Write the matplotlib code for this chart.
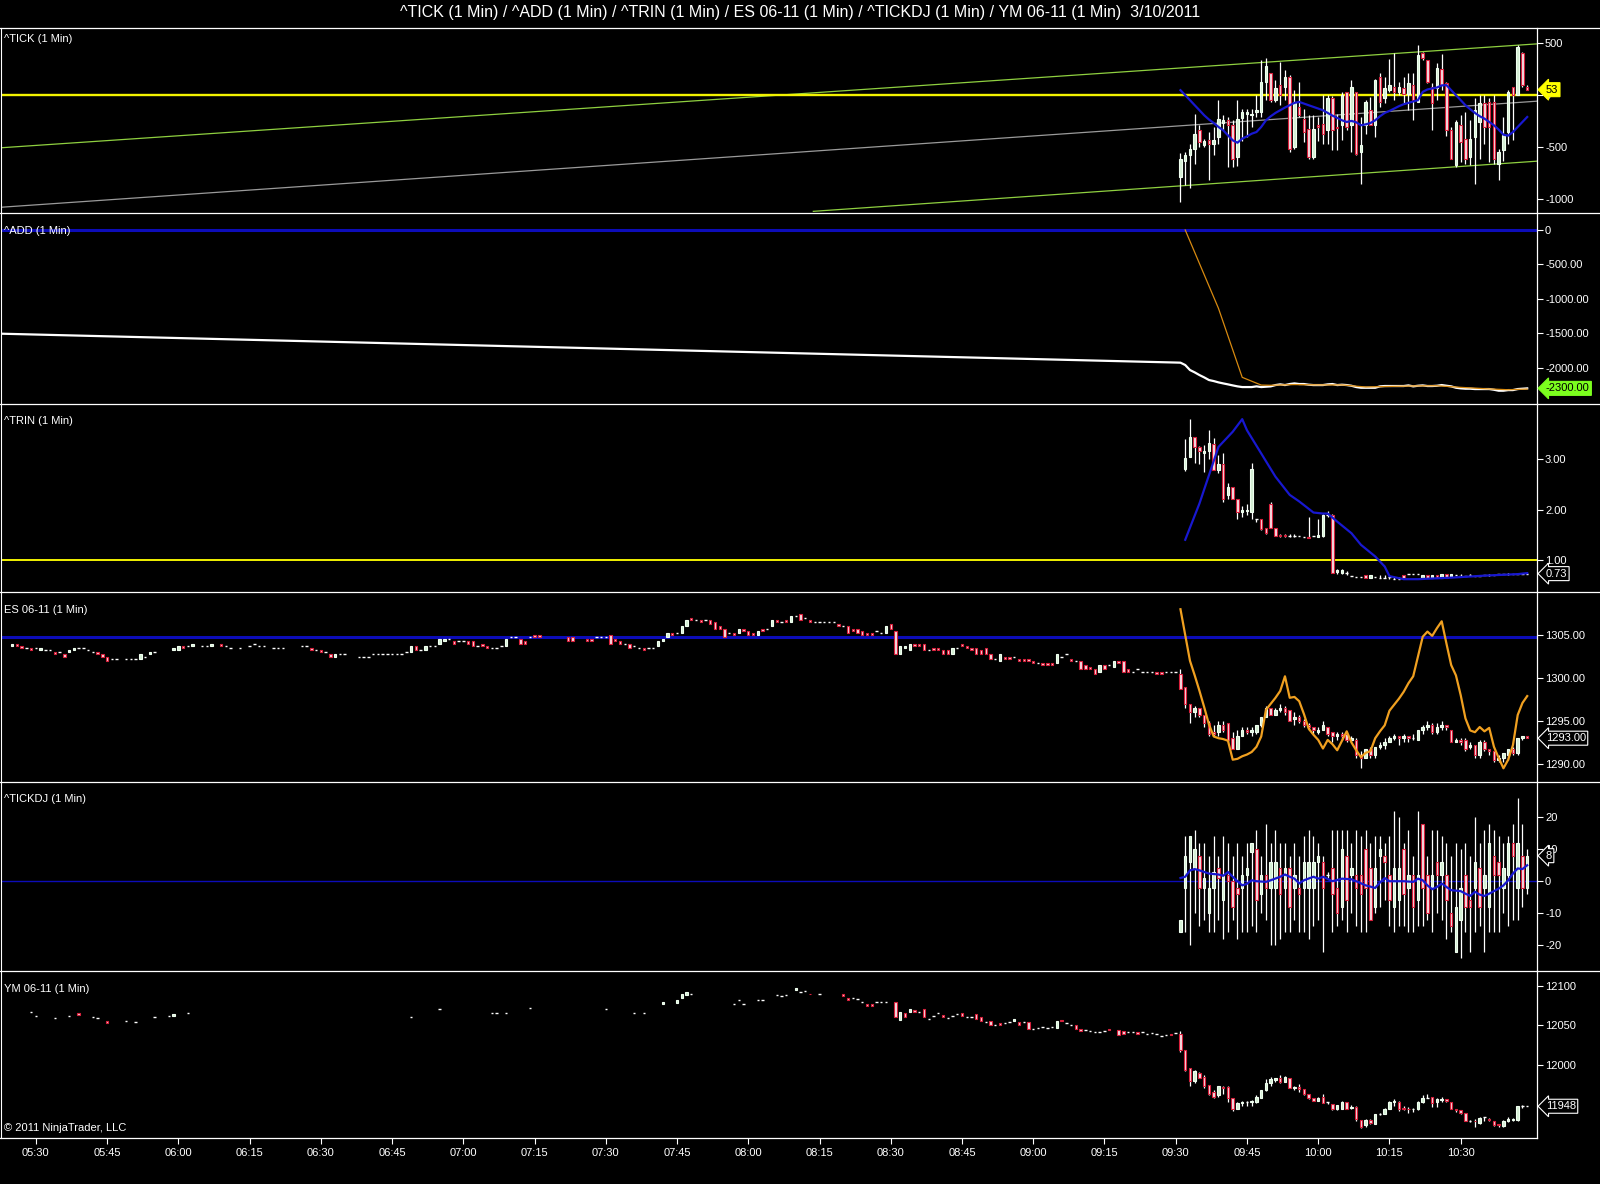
import matplotlib
matplotlib.use('Agg')
import matplotlib.pyplot as plt
from matplotlib.lines import Line2D
from matplotlib.patches import Rectangle

plt.rcParams['font.family'] = ['Liberation Sans', 'DejaVu Sans']

# time axis: minutes after 05:30, regular session bar m sits at 240 + m
OPEN_T = 240
x_ticks = list(range(0, 301, 15))
x_labels = ['05:30', '05:45', '06:00', '06:15', '06:30', '06:45', '07:00', '07:15', '07:30',
            '07:45', '08:00', '08:15', '08:30', '08:45', '09:00', '09:15', '09:30', '09:45',
            '10:00', '10:15', '10:30']

# ---------------- ^TICK (bars 09:31 .. 10:44)
tick_open = [-790, -630, -580, -516, -340, -484, -430, -470, -403, -270,
             -240, -284, -597, -216, -180, -195, -160, -160, 130, 216,
             -50, 97, 80, 177, -500, -113, -226, -322, -597, -290,
             -274, -332, -32, -306, -290, 26, -290, 32, -548, -290,
             -145, -290, 177, -32, 48, 80, 32, 65, 16, 97,
             -65, 403, 340, 80, 65, 250, 113, -340, -677, -290,
             -420, -597, -403, -258, -80, -65, -65, -660, -532, -355,
             74, 0, 403, 80]
tick_close = [-613, -580, -516, -370, -450, -445, -475, -430, -226, -240,
              -290, -613, -226, -160, -165, -178, -145, 130, 280, -50,
              65, 0, 177, -516, -65, -194, -355, -597, -322, -306,
              -377, -32, -339, -320, 0, -306, 80, -565, -484, -65,
              -290, 145, -65, 65, 97, 32, 80, 16, 113, -50,
              387, 355, 130, -80, 260, 97, -340, -613, -258, -452,
              -613, -420, -145, -80, -306, -306, -613, -548, -387, 32,
              0, 467, 97, 53]
tick_high = [-560, -550, -470, -180, -290, -420, -355, -310, -50, -190,
             -210, -240, -50, -130, -130, -130, 0, 340, 355, 216,
             145, 320, 240, 190, 50, 130, -130, -194, -194, -210,
             0, 0, -10, -177, 32, 32, 145, 32, -210, -50,
             -16, 160, 210, 177, 345, 410, 130, 177, 210, 210,
             485, 420, 340, 113, 306, 400, 130, -306, -240, -194,
             -160, -240, -32, 0, 0, -32, 0, -516, -210, 48,
             74, 485, 420, 97]
tick_low = [-1030, -870, -890, -660, -500, -500, -820, -580, -470, -340,
            -690, -690, -680, -440, -400, -310, -210, -210, -50, -65,
            -65, -97, -50, -550, -516, -210, -450, -613, -613, -440,
            -470, -470, -530, -530, -435, -340, -550, -580, -855, -370,
            -290, -400, -113, -80, 32, -50, 0, -80, -145, -240,
            -65, 340, 113, -340, -50, 48, -390, -613, -690, -645,
            -660, -677, -855, -613, -470, -645, -660, -820, -630, -470,
            -435, 0, 80, 48]
tick_ma = [48, 0, -48, -97, -145, -194, -235, -268, -306, -339,
           -387, -435, -458, -419, -397, -371, -355, -306, -242, -203,
           -171, -145, -119, -97, -74, -65, -81, -97, -113, -129,
           -145, -171, -197, -219, -242, -258, -248, -261, -290, -281,
           -268, -242, -203, -171, -152, -129, -106, -87, -74, -61,
           -48, 32, 55, 65, 74, 94, 97, 48, 0, -48,
           -97, -135, -171, -203, -226, -258, -290, -332, -381, -390,
           -355, -306, -258, -210]
# drawn trend lines (time, value end points)
tick_upper_t = [-7.4, 316]
tick_upper_v = [-507, 494]
tick_mid_t = [-7.4, 316]
tick_mid_v = [-1080, -58]
tick_lower_t = [163.7, 316]
tick_lower_v = [-1119, -636]

# ---------------- ^ADD
add_pre_t = [-7.4, 240]
add_pre_v = [-1506, -1925]
add_close = [-1927, -1961, -2034, -2068, -2107, -2141, -2179, -2194, -2213, -2228,
             -2242, -2257, -2271, -2281, -2281, -2281, -2271, -2281, -2276, -2271,
             -2252, -2242, -2252, -2237, -2228, -2237, -2237, -2247, -2252, -2252,
             -2252, -2242, -2237, -2252, -2247, -2252, -2262, -2281, -2291, -2291,
             -2291, -2291, -2271, -2266, -2266, -2266, -2266, -2266, -2257, -2271,
             -2262, -2257, -2266, -2266, -2262, -2252, -2262, -2271, -2291, -2300,
             -2305, -2305, -2310, -2310, -2310, -2310, -2320, -2334, -2334, -2325,
             -2325, -2310, -2305, -2300]
add_ma_t = [242, 249, 254, 258, 260, 265, 270, 275, 280, 285, 290, 295, 300, 305, 310, 314]
add_ma_v = [0, -1138, -2140, -2252, -2255, -2245, -2250, -2250, -2280, -2272, -2265,
            -2262, -2285, -2305, -2320, -2310]

# ---------------- ^TRIN (bars 09:32 .. 10:44)
trin_open = [2.80, 3.05, 3.43, 3.24, 3.11, 3.15, 3.30, 2.78, 2.90, 2.29,
             2.44, 2.20, 1.96, 1.97, 1.96, 1.82, 1.81, 1.63, 2.11, 1.63,
             1.50, 1.49, 1.48, 1.48, 1.47, 1.46, 1.46, 1.48, 1.46, 1.48,
             1.90, 1.90, 0.76, 0.74, 0.75, 0.68, 0.67, 0.66, 0.70, 0.65,
             0.66, 0.65, 0.65, 0.66, 0.63, 0.63, 0.70, 0.72, 0.72, 0.72,
             0.64, 0.70, 0.64, 0.70, 0.65, 0.72, 0.66, 0.70, 0.69, 0.69,
             0.70, 0.69, 0.69, 0.70, 0.71, 0.71, 0.72, 0.72, 0.72, 0.73,
             0.72, 0.72, 0.73]
trin_close = [3.03, 3.43, 3.24, 3.15, 3.15, 3.31, 2.78, 2.90, 2.21, 2.44,
              2.20, 1.96, 1.99, 2.00, 2.80, 1.82, 1.61, 1.54, 1.63, 1.48,
              1.48, 1.48, 1.48, 1.48, 1.47, 1.46, 1.43, 1.48, 1.49, 1.90,
              1.90, 0.75, 0.80, 0.81, 0.75, 0.68, 0.67, 0.66, 0.65, 0.70,
              0.66, 0.65, 0.65, 0.66, 0.63, 0.63, 0.64, 0.72, 0.72, 0.72,
              0.70, 0.64, 0.70, 0.65, 0.72, 0.65, 0.72, 0.70, 0.69, 0.69,
              0.70, 0.69, 0.69, 0.70, 0.71, 0.71, 0.72, 0.72, 0.72, 0.73,
              0.72, 0.72, 0.73]
trin_high = [3.39, 3.79, 3.43, 3.26, 3.28, 3.57, 3.41, 3.08, 3.11, 2.52,
             2.44, 2.20, 2.06, 2.11, 2.93, 1.82, 1.82, 1.63, 2.14, 1.63,
             1.52, 1.51, 1.51, 1.51, 1.47, 1.46, 1.86, 1.48, 1.82, 1.92,
             1.97, 1.92, 0.82, 0.83, 0.78, 0.68, 0.67, 0.66, 0.70, 0.70,
             0.66, 0.70, 0.70, 0.67, 0.67, 0.67, 0.70, 0.72, 0.72, 0.72,
             0.70, 0.70, 0.70, 0.70, 0.72, 0.72, 0.72, 0.70, 0.72, 0.69,
             0.72, 0.69, 0.69, 0.70, 0.72, 0.71, 0.72, 0.72, 0.74, 0.73,
             0.72, 0.72, 0.74]
trin_low = [2.77, 3.05, 2.93, 2.90, 2.75, 3.01, 2.78, 2.72, 2.14, 2.20,
            2.20, 1.81, 1.86, 1.89, 1.81, 1.75, 1.59, 1.52, 1.63, 1.48,
            1.45, 1.46, 1.45, 1.46, 1.47, 1.46, 1.43, 1.48, 1.46, 1.46,
            1.86, 0.74, 0.73, 0.73, 0.71, 0.68, 0.67, 0.66, 0.65, 0.65,
            0.66, 0.65, 0.65, 0.62, 0.62, 0.62, 0.64, 0.72, 0.72, 0.72,
            0.64, 0.64, 0.64, 0.65, 0.65, 0.65, 0.66, 0.70, 0.67, 0.69,
            0.68, 0.69, 0.69, 0.70, 0.69, 0.71, 0.72, 0.72, 0.70, 0.73,
            0.72, 0.72, 0.72]
trin_ma_m = [2, 5, 9, 12, 14, 15, 18, 21, 24, 26, 29, 31, 32, 34, 37, 39, 42, 44, 45,
             48, 51, 58, 65, 72, 74]
trin_ma_v = [1.40, 2.12, 3.24, 3.54, 3.79, 3.57, 3.11, 2.65, 2.29, 2.16, 1.94, 1.92, 1.92,
             1.76, 1.53, 1.30, 1.07, 0.87, 0.68, 0.62, 0.62, 0.65, 0.69, 0.72, 0.74]

# ---------------- ES 06-11, overnight bars from 05:25 (None = no bar)
es_pre_open = [1303.75, 1304.0, 1303.75, 1303.5, 1303.5, 1303.5, 1303.25, 1303.25, 1303.25, 1303.0,
               1303.0, 1302.75, 1303.0, 1303.25, 1303.5, 1303.5, 1303.25, 1303.0, 1303.0, 1302.75,
               1302.5, 1302.25, 1302.25, None, 1302.25, 1302.25, 1302.25, 1302.25, 1302.5, 1302.75,
               1303.0, None, None, None, 1303.25, 1303.25, 1303.75, 1303.75, 1303.75, None,
               1303.75, 1303.75, 1303.75, None, 1304.0, 1303.75, 1303.5, None, 1303.5, None,
               1303.75, 1304.0, 1303.75, 1303.75, None, 1303.5, 1303.5, 1303.5, None, None,
               None, 1303.75, 1303.75, 1303.5, 1303.25, 1303.25, 1303.0, 1302.75, 1302.5, 1302.75,
               1302.75, None, None, 1302.5, 1302.5, 1302.5, 1302.75, 1302.75, 1302.75, 1302.75,
               1302.75, 1302.75, 1302.75, 1303.0, 1303.0, 1303.75, 1303.25, 1303.25, 1303.75, 1303.75,
               1304.0, 1304.25, 1304.5, 1304.25, 1304.25, 1304.25, 1304.25, 1304.25, 1303.75, 1304.0,
               1303.75, 1303.5, 1303.5, 1303.75, 1303.75, 1304.75, 1304.75, 1304.5, 1304.25, 1304.75,
               1305.0, 1305.0, None, None, None, None, None, 1304.75, 1304.75, None,
               None, 1304.5, 1304.5, 1304.75, 1304.75, 1304.75, 1305.0, 1304.5, 1304.25, 1304.0,
               1304.0, 1303.75, 1303.5, 1303.5, 1303.5, 1303.5, 1303.75, 1304.25, 1304.75, 1305.25,
               1305.25, 1305.25, 1306.0, 1307.0, 1306.75, 1306.75, 1306.75, 1306.75, 1306.5, 1306.0,
               1305.75, 1305.25, 1305.25, 1305.25, 1305.75, 1305.5, 1305.25, 1305.0, 1305.75, 1305.75,
               1306.0, 1306.75, 1306.5, 1306.75, 1306.5, 1307.25, 1307.5, 1307.0, 1306.75, 1306.5,
               1306.5, 1306.5, 1306.5, 1306.5, 1306.25, 1306.0, 1306.0, 1305.75, 1305.75, 1305.5,
               1305.25, 1305.25, 1305.5, 1305.25, 1305.25, 1306.25, 1305.5, 1302.75, 1303.5, 1303.25,
               1304.0, 1304.0, 1304.0, 1303.25, 1303.5, 1303.5, 1303.25, 1303.25, 1302.75, 1303.5,
               1304.0, 1303.75, 1303.5, 1303.5, 1303.25, 1303.5, 1302.75, 1302.25, 1302.0, 1302.5,
               1302.5, 1302.5, 1302.25, 1302.25, 1302.25, 1302.0, 1301.75, 1301.75, 1301.75, 1301.75,
               1301.75, 1302.5, 1302.75, 1302.25, 1302.0, 1302.0, 1301.5, 1301.25, 1301.0, 1300.75,
               1301.5, 1301.5, 1301.25, 1302.0, 1302.0, 1301.0, 1300.75, 1301.0, 1300.75, 1300.75,
               1300.75, 1300.75, 1300.75, 1300.75, 1300.75, 1300.75]
es_pre_close = [1304.0, 1303.75, 1303.5, 1303.5, 1303.25, 1303.5, 1303.5, 1303.25, 1303.25, 1302.75,
                1303.0, 1302.5, 1303.25, 1303.5, 1303.5, 1303.5, 1303.25, 1303.0, 1302.75, 1302.5,
                1302.0, 1302.25, 1302.25, None, 1302.25, 1302.25, 1302.25, 1302.75, 1302.5, 1303.0,
                1303.0, None, None, None, 1303.5, 1303.75, 1303.5, 1303.75, 1304.0, None,
                1303.75, 1303.75, 1304.0, None, 1303.75, 1303.75, 1303.5, None, 1303.5, None,
                1303.75, 1304.0, 1303.75, 1303.75, None, 1303.5, 1303.5, 1303.5, None, None,
                None, 1303.75, 1303.75, 1303.25, 1303.25, 1303.0, 1303.0, 1302.5, 1302.75, 1302.75,
                1302.75, None, None, 1302.5, 1302.5, 1302.5, 1302.75, 1302.75, 1302.75, 1302.75,
                1302.75, 1302.75, 1302.75, 1303.0, 1303.75, 1303.25, 1303.25, 1303.75, 1303.75, 1303.75,
                1304.5, 1304.5, 1304.5, 1304.0, 1304.25, 1304.25, 1304.0, 1303.75, 1303.75, 1303.75,
                1303.5, 1303.5, 1303.5, 1303.75, 1304.5, 1304.75, 1304.75, 1304.0, 1304.0, 1304.75,
                1304.75, 1304.75, None, None, None, None, None, 1304.25, 1304.25, None,
                None, 1304.25, 1304.25, 1304.75, 1304.75, 1304.75, 1304.0, 1304.25, 1304.0, 1304.0,
                1303.5, 1303.75, 1303.5, 1303.25, 1303.5, 1303.5, 1304.25, 1304.5, 1305.25, 1305.0,
                1305.25, 1306.0, 1306.75, 1306.75, 1306.75, 1306.5, 1306.75, 1306.25, 1305.75, 1305.75,
                1304.75, 1305.25, 1305.0, 1305.75, 1305.5, 1305.0, 1305.0, 1305.5, 1305.5, 1305.75,
                1306.75, 1306.5, 1306.5, 1306.5, 1307.25, 1307.25, 1306.75, 1307.0, 1306.5, 1306.5,
                1306.5, 1306.5, 1306.5, 1306.5, 1306.0, 1306.0, 1305.25, 1305.5, 1305.25, 1305.0,
                1305.0, 1305.0, 1305.5, 1305.25, 1306.0, 1305.75, 1302.75, 1303.75, 1303.75, 1304.0,
                1303.75, 1303.75, 1303.25, 1303.25, 1303.25, 1303.25, 1302.75, 1302.75, 1303.5, 1303.5,
                1303.75, 1303.5, 1303.25, 1302.75, 1302.75, 1302.75, 1302.25, 1302.25, 1302.75, 1302.25,
                1302.25, 1302.5, 1302.0, 1302.0, 1302.0, 1301.75, 1301.75, 1301.5, 1301.5, 1301.5,
                1302.75, 1302.5, 1302.75, 1302.0, 1302.0, 1301.0, 1301.0, 1301.0, 1300.5, 1301.5,
                1301.0, 1301.5, 1302.0, 1301.75, 1300.75, 1300.75, 1300.75, 1301.0, 1300.75, 1300.75,
                1300.75, 1300.5, 1300.5, 1300.75, 1300.75, 1300.75]
ES_PRE_START = -5
es_open = [1300.5, 1299.0, 1297.0, 1296.0, 1296.5, 1295.75, 1294.75, 1293.75, 1293.75, 1294.5,
           1294.75, 1293.0, 1291.75, 1293.25, 1294.0, 1293.75, 1293.75, 1294.5, 1295.5, 1296.5,
           1295.75, 1296.25, 1296.5, 1296.25, 1295.25, 1295.5, 1295.0, 1294.5, 1294.25, 1293.75,
           1294.0, 1294.25, 1293.75, 1293.25, 1293.5, 1293.5, 1292.75, 1292.75, 1291.0, 1290.75,
           1291.75, 1291.0, 1292.0, 1292.25, 1292.5, 1293.0, 1293.25, 1293.0, 1293.25, 1293.0,
           1292.75, 1294.0, 1294.25, 1294.5, 1293.75, 1294.25, 1294.5, 1294.0, 1292.5, 1292.75,
           1292.75, 1292.0, 1292.25, 1291.0, 1292.5, 1291.75, 1291.5, 1290.5, 1290.75, 1291.0,
           1291.75, 1291.25, 1293.0, 1293.25]
es_high = [1301.0, 1299.0, 1297.0, 1296.75, 1296.5, 1295.75, 1295.0, 1294.5, 1295.0, 1295.0,
           1294.75, 1293.75, 1294.0, 1294.25, 1294.25, 1294.25, 1294.5, 1295.5, 1296.75, 1296.5,
           1296.5, 1297.0, 1296.75, 1296.25, 1296.0, 1295.75, 1295.25, 1294.75, 1294.25, 1294.25,
           1295.0, 1294.25, 1293.75, 1293.75, 1293.75, 1293.5, 1293.25, 1293.0, 1291.5, 1291.75,
           1292.0, 1292.0, 1292.5, 1293.0, 1293.25, 1293.5, 1293.25, 1293.5, 1293.25, 1293.5,
           1294.0, 1294.5, 1295.0, 1294.75, 1294.75, 1295.0, 1294.5, 1294.0, 1293.0, 1293.0,
           1293.0, 1292.5, 1292.25, 1292.75, 1292.75, 1291.75, 1291.5, 1291.0, 1291.25, 1291.75,
           1292.0, 1293.0, 1293.25, 1293.25]
es_low = [1298.75, 1296.5, 1294.75, 1295.5, 1295.5, 1294.25, 1293.25, 1293.25, 1293.25, 1293.75,
          1292.5, 1291.75, 1291.75, 1293.25, 1293.5, 1293.25, 1293.5, 1294.25, 1295.5, 1295.75,
          1295.75, 1296.0, 1295.75, 1295.0, 1294.5, 1294.75, 1294.25, 1294.0, 1293.5, 1293.5,
          1294.0, 1293.25, 1292.5, 1292.75, 1292.75, 1292.5, 1292.5, 1290.75, 1289.5, 1290.75,
          1290.75, 1290.75, 1291.75, 1291.75, 1292.5, 1292.75, 1292.25, 1292.5, 1292.5, 1292.75,
          1292.75, 1293.5, 1294.0, 1293.5, 1293.5, 1294.0, 1294.0, 1292.5, 1292.5, 1292.25,
          1291.5, 1291.75, 1290.75, 1290.75, 1291.5, 1291.0, 1290.25, 1290.25, 1290.25, 1290.5,
          1291.0, 1291.0, 1292.75, 1293.0]
es_close = [1298.75, 1297.0, 1296.0, 1296.5, 1295.75, 1294.75, 1293.5, 1293.5, 1294.5, 1294.0,
            1292.75, 1291.75, 1293.25, 1294.0, 1293.75, 1294.0, 1294.5, 1295.5, 1296.5, 1295.75,
            1296.25, 1296.5, 1296.0, 1295.0, 1295.5, 1295.0, 1294.5, 1294.25, 1294.0, 1294.0,
            1294.5, 1293.5, 1293.25, 1293.5, 1293.25, 1292.75, 1293.0, 1291.0, 1290.75, 1291.75,
            1291.0, 1292.0, 1292.25, 1292.5, 1293.0, 1293.25, 1293.0, 1293.25, 1293.0, 1293.0,
            1294.0, 1294.25, 1294.5, 1293.75, 1294.25, 1294.5, 1294.25, 1292.5, 1292.75, 1292.5,
            1291.75, 1292.25, 1291.0, 1292.5, 1291.75, 1291.5, 1290.5, 1290.75, 1291.25, 1291.75,
            1291.25, 1293.0, 1293.25, 1293.0]
es_ma = [1308.0, 1305.0, 1302.0, 1300.3, 1298.5, 1296.6, 1294.6, 1293.2, 1293.0, 1292.9,
         1292.7, 1290.5, 1290.6, 1290.9, 1291.1, 1291.4, 1292.0, 1293.2, 1296.3, 1297.0,
         1297.7, 1298.5, 1300.2, 1297.7, 1297.8, 1297.3, 1295.8, 1294.1, 1293.4, 1292.8,
         1291.8, 1292.8, 1292.3, 1291.6, 1292.7, 1293.8, 1292.5, 1291.6, 1290.8, 1291.3,
         1291.5, 1293.0, 1293.8, 1294.5, 1296.2, 1296.9, 1297.6, 1298.4, 1299.4, 1300.2,
         1302.5, 1304.8, 1305.4, 1304.9, 1305.8, 1306.6, 1304.0, 1301.5, 1300.3, 1298.0,
         1295.3, 1293.9, 1293.7, 1294.3, 1293.8, 1294.2, 1292.0, 1290.7, 1289.5, 1290.5,
         1292.2, 1295.7, 1297.1, 1297.9]
es_level = 1304.75

# ---------------- ^TICKDJ
tdj_open = [-16, -2, 6, 4, 8, -2, -10, -2, 4, -6,
            2, 0, -2, -2, 2, 9, 10, -4, 2, -2,
            -2, 4, -2, 4, -2, -2, -2, -2, -2, 6,
            6, 2, 4, -2, -8, 8, 2, 2, 2, 10,
            4, -8, 8, 8, 2, -8, -6, 10, -2, 2,
            -6, 18, 2, -2, 6, 2, 2, -10, -22, -12,
            2, -6, -2, 4, -2, -8, 8, 6, -2, 2,
            12, -2, 8, -2]
tdj_close = [-12, 8, 14, 10, -2, 1, -2, 3, 1, 2,
             0, -8, -4, 2, 4, 12, -6, 2, -2, 6,
             6, -4, 4, -8, 2, -4, 6, 6, 6, 8,
             -2, 2, -4, -10, 10, -6, 4, -2, -4, -2,
             -12, 4, 10, 6, -6, 4, 4, -4, 2, -8,
             2, -2, -10, 2, 2, 6, -6, -14, -8, -2,
             -8, -8, 6, -8, 2, 12, 2, 2, 4, 12,
             8, 12, -2, 8]
tdj_high = [-12, 14, 14, 16, 12, 12, 8, 14, 8, 14,
            12, 8, 12, 8, 12, 12, 16, 8, 18, 12,
            16, 12, 12, 8, 12, 8, 14, 16, 14, 12,
            8, 3, 16, 16, 16, 16, 12, 16, 14, 16,
            12, 14, 14, 12, 14, 22, 20, 12, 16, 8,
            22, 18, 8, 16, 16, 14, 12, 8, 12, 10,
            12, 8, 20, 12, 16, 18, 16, 14, 12, 14,
            18, 26, 18, 10]
tdj_low = [-16, -16, -20, -10, -14, -12, -16, -16, -12, -18,
           -16, -12, -18, -16, -16, -14, -16, -10, -12, -20,
           -20, -18, -16, -16, -12, -16, -16, -18, -14, -12,
           -22, 1, -16, -14, -12, -16, -10, -14, -16, -16,
           -12, -10, -8, -6, -14, -16, -14, -14, -16, -16,
           -14, -14, -12, -16, -10, -12, -18, -16, -22, -24,
           -16, -22, -16, -14, -22, -16, -16, -16, -10, -14,
           -12, -12, -8, -4]
tdj_ma_m = [1, 2, 3, 4, 5, 7, 9, 10, 11, 12, 13, 14, 15, 16, 17, 19, 20, 22, 23, 24,
            25, 26, 27, 29, 30, 31, 33, 35, 37, 38, 40, 42, 43, 44, 45, 48, 50, 51, 52, 53,
            54, 55, 56, 57, 58, 60, 61, 62, 63, 64, 65, 66, 68, 69, 70, 71, 72, 73, 74]
tdj_ma_v = [1.0, 1.4, 3.4, 3.8, 3.4, 2.4, 2.1, 1.7, 2.9, 1.4, 0, -1.3, -0.8, 0.3, 0, -0.2, 0.3,
            1.4, 2.1, 1.4, 0.8, -0.7, 0.3, 1.4, 0.8, 1.4, 0, 0.8, 0.6, 0, -1.3, -2.1, -0.4, 1.0,
            0, 0, -0.2, 0.8, 0.3, -1.3, -2.5, -1.8, -0.7, -1.8, -2.8, -3.1, -3.9, -4.6, -3.3,
            -4.2, -4.6, -3.9, -2.3, -1.3, 0.3, 2.4, 4.0, 3.8, 5.0]

# ---------------- YM 06-11 (overnight bars are sparse)
ym_pre_t = [-1, 0, 4, 7, 9, 12, 13, 15, 19, 21,
            25, 28, 29, 32, 79, 85, 96, 97, 99, 104,
            120, 126, 128, 132, 135, 136, 137, 138, 147, 148,
            149, 152, 153, 156, 157, 158, 160, 161, 162, 163,
            165, 170, 171, 172, 173, 174, 175, 176, 177, 178,
            179, 181, 182, 183, 184, 185, 186, 187, 188, 189,
            190, 191, 192, 193, 194, 195, 196, 197, 198, 199,
            200, 201, 202, 203, 204, 205, 206, 207, 208, 209,
            210, 211, 212, 213, 214, 215, 216, 217, 218, 219,
            220, 221, 222, 223, 224, 225, 226, 228, 229, 230,
            231, 232, 233, 234, 235, 236, 237, 238, 239, 240]
ym_pre_open = [12067, 12062, 12059, 12062, 12065, 12060, 12059, 12056, 12055, 12054,
               12060, 12062, 12062, 12066, 12060, 12070, 12065, 12065, 12065, 12072,
               12071, 12065, 12065, 12077, 12078, 12085, 12088, 12090, 12077, 12082,
               12077, 12082, 12082, 12088, 12087, 12088, 12094, 12092, 12093, 12090,
               12089, 12089, 12085, 12084, 12083, 12080, 12077, 12077, 12079, 12079,
               12079, 12079, 12057, 12066, 12067, 12069, 12067, 12071, 12058, 12062,
               12065, 12063, 12059, 12062, 12064, 12065, 12061, 12061, 12064, 12060,
               12054, 12055, 12051, 12053, 12053, 12054, 12056, 12054, 12054, 12054,
               12046, 12047, 12048, 12047, 12048, 12047, 12057, 12053, 12051, 12051,
               12046, 12044, 12043, 12041, 12042, 12043, 12046, 12044, 12043, 12041,
               12042, 12042, 12041, 12039, 12040, 12039, 12037, 12038, 12039, 12040]
ym_pre_close = [12067, 12062, 12059, 12062, 12063, 12060, 12059, 12053, 12055, 12054,
                12060, 12062, 12064, 12066, 12060, 12070, 12065, 12065, 12065, 12072,
                12071, 12065, 12065, 12079, 12082, 12090, 12092, 12090, 12077, 12082,
                12077, 12082, 12082, 12088, 12087, 12088, 12097, 12092, 12093, 12089,
                12089, 12087, 12082, 12084, 12083, 12080, 12075, 12075, 12079, 12079,
                12079, 12061, 12067, 12061, 12071, 12067, 12067, 12061, 12058, 12062,
                12065, 12061, 12059, 12062, 12064, 12062, 12061, 12061, 12058, 12056,
                12054, 12051, 12051, 12051, 12053, 12054, 12058, 12051, 12054, 12046,
                12046, 12047, 12048, 12047, 12048, 12055, 12055, 12053, 12051, 12046,
                12043, 12044, 12043, 12041, 12042, 12043, 12044, 12038, 12039, 12041,
                12042, 12039, 12041, 12039, 12040, 12039, 12037, 12038, 12038, 12040]
ym_open = [12039, 12019, 11996, 11980, 11990, 11985, 11975, 11966, 11962, 11972,
           11972, 11959, 11945, 11952, 11953, 11953, 11953, 11959, 11968, 11977,
           11981, 11983, 11978, 11984, 11971, 11972, 11970, 11964, 11958, 11955,
           11960, 11953, 11951, 11944, 11945, 11953, 11946, 11947, 11931, 11924,
           11931, 11926, 11938, 11938, 11945, 11953, 11953, 11946, 11945, 11944,
           11944, 11953, 11959, 11960, 11953, 11956, 11957, 11953, 11944, 11943,
           11940, 11930, 11930, 11927, 11934, 11932, 11930, 11925, 11923, 11929,
           11931, 11931, 11948, 11948]
ym_high = [12043, 12019, 11996, 11994, 11991, 11987, 11975, 11968, 11974, 11973,
           11973, 11959, 11953, 11955, 11955, 11956, 11962, 11968, 11982, 11985,
           11984, 11987, 11986, 11984, 11974, 11976, 11970, 11964, 11959, 11960,
           11964, 11953, 11951, 11950, 11954, 11953, 11949, 11948, 11931, 11932,
           11932, 11938, 11939, 11946, 11955, 11957, 11955, 11948, 11947, 11946,
           11954, 11962, 11964, 11960, 11959, 11960, 11957, 11953, 11945, 11943,
           11940, 11931, 11932, 11935, 11934, 11933, 11930, 11926, 11931, 11934,
           11933, 11948, 11949, 11948]
ym_low = [12017, 11992, 11973, 11977, 11983, 11971, 11962, 11958, 11960, 11964,
          11953, 11942, 11944, 11948, 11948, 11948, 11952, 11958, 11967, 11974,
          11978, 11977, 11978, 11971, 11969, 11966, 11962, 11957, 11954, 11954,
          11952, 11951, 11943, 11943, 11944, 11945, 11944, 11930, 11920, 11922,
          11926, 11925, 11937, 11938, 11945, 11948, 11942, 11943, 11939, 11941,
          11943, 11952, 11958, 11947, 11947, 11953, 11953, 11944, 11941, 11938,
          11929, 11928, 11922, 11926, 11930, 11929, 11923, 11922, 11922, 11928,
          11929, 11930, 11946, 11948]
ym_close = [12019, 11994, 11980, 11992, 11984, 11973, 11964, 11960, 11973, 11971,
            11959, 11945, 11952, 11953, 11953, 11954, 11960, 11968, 11977, 11982,
            11983, 11978, 11985, 11971, 11972, 11970, 11963, 11958, 11955, 11958,
            11952, 11953, 11944, 11949, 11953, 11945, 11947, 11932, 11922, 11931,
            11927, 11938, 11938, 11945, 11953, 11954, 11945, 11944, 11944, 11945,
            11953, 11959, 11959, 11952, 11957, 11957, 11955, 11944, 11943, 11940,
            11930, 11930, 11929, 11933, 11934, 11931, 11924, 11924, 11930, 11932,
            11932, 11948, 11948, 11948]

# ---------------- styling
FIG_W, FIG_H = 1600, 1184
AX_W = 1536.7 / FIG_W
XLIM = (-7.37, 316.0)
UP_FACE, UP_EDGE = '#d4efd4', '#f0fff0'
DN_FACE, DN_EDGE = '#f4dde2', '#d8203c'
BLUE = '#1818d0'
DEEP_BLUE = '#0c0cb8'
YELLOW = '#f2f200'
LIME = '#8fd040'
ORANGE = '#f0a020'


def fy(px):
    return 1 - px / FIG_H


def draw_candles(ax, ts, opens, highs, lows, closes, w=0.52):
    wick_x, wick_lo, wick_hi = [], [], []
    for i, (t, o, c) in enumerate(zip(ts, opens, closes)):
        if o is None:
            continue
        if highs is not None:
            wick_x.append(t)
            wick_lo.append(lows[i])
            wick_hi.append(highs[i])
        if c == o:
            ax.hlines(c, t - w / 2, t + w / 2, color='white', lw=1.0, zorder=4)
        else:
            fc, ec = (UP_FACE, UP_EDGE) if c > o else (DN_FACE, DN_EDGE)
            ax.add_patch(Rectangle((t - w / 2, min(o, c)), w, abs(c - o),
                                   facecolor=fc, edgecolor=ec, lw=0.8, zorder=4))
    if wick_x:
        ax.vlines(wick_x, wick_lo, wick_hi, color='white', lw=0.9, zorder=3)


def price_tag(ax, y, text, fc, tc, ec):
    ax.text(1.0058, y, text, transform=ax.get_yaxis_transform(), ha='left', va='center',
            fontsize=8, color=tc, zorder=10, clip_on=False,
            bbox=dict(boxstyle='larrow,pad=0.18', fc=fc, ec=ec, lw=0.8))


fig = plt.figure(figsize=(FIG_W / 100, FIG_H / 100), dpi=100, facecolor='black')

tops = [27.6, 213.3, 404.0, 592.3, 781.7, 971.0]
bots = [213.3, 404.0, 592.3, 781.7, 971.0, 1138.3]
ylims = [(-1138, 651), (-2527, 242), (0.36, 4.09), (1287.94, 1309.97), (-28.1, 31.15),
         (11907.6, 12118.5)]
names = ['^TICK (1 Min)', '^ADD (1 Min)', '^TRIN (1 Min)', 'ES 06-11 (1 Min)',
         '^TICKDJ (1 Min)', 'YM 06-11 (1 Min)']
label_off = [11, 18, 17, 18, 17, 18]
yticks = [([500, 0, -500, -1000], ['500', '0', '-500', '-1000']),
          ([0, -500, -1000, -1500, -2000], ['0', '-500.00', '-1000.00', '-1500.00', '-2000.00']),
          ([1, 2, 3], ['1.00', '2.00', '3.00']),
          ([1290, 1295, 1300, 1305], ['1290.00', '1295.00', '1300.00', '1305.00']),
          ([-20, -10, 0, 10, 20], ['-20', '-10', '0', '10', '20']),
          ([12000, 12050, 12100], ['12000', '12050', '12100'])]

axes = []
for i in range(6):
    ax = fig.add_axes([0.0005, fy(bots[i]), AX_W - 0.0005, (bots[i] - tops[i]) / FIG_H])
    ax.set_facecolor('black')
    ax.set_xlim(*XLIM)
    ax.set_ylim(*ylims[i])
    for side in ['top', 'bottom']:
        ax.spines[side].set_visible(False)
    ax.spines['left'].set_color('white')
    ax.spines['left'].set_linewidth(0.8)
    ax.spines['right'].set_color('white')
    ax.spines['right'].set_linewidth(0.9)
    ax.yaxis.tick_right()
    ax.set_yticks(yticks[i][0])
    ax.set_yticklabels(yticks[i][1])
    ax.tick_params(axis='y', colors='white', labelsize=8, length=4, width=0.8, pad=2)
    ax.tick_params(axis='x', colors='white', labelsize=8, length=4, width=0.8, pad=3)
    ax.set_xticks([])
    ax.text(0.002, 1 - label_off[i] / (bots[i] - tops[i]), names[i], transform=ax.transAxes,
            color='white', fontsize=8, va='center', ha='left')
    axes.append(ax)
    fig.add_artist(Line2D([0, 1], [fy(tops[i]), fy(tops[i])], transform=fig.transFigure,
                          color='white', lw=0.9))
fig.add_artist(Line2D([0, AX_W], [fy(bots[-1]), fy(bots[-1])], transform=fig.transFigure,
                      color='white', lw=0.9))

post_t = [OPEN_T + m for m in range(1, 75)]

# ^TICK
ax = axes[0]
ax.plot(tick_upper_t, tick_upper_v, color=LIME, lw=0.9, zorder=2)
ax.plot(tick_lower_t, tick_lower_v, color=LIME, lw=0.9, zorder=2)
ax.plot(tick_mid_t, tick_mid_v, color='#9a9a9a', lw=0.9, zorder=2)
ax.axhline(0, color=YELLOW, lw=1.7, zorder=2)
draw_candles(ax, post_t, tick_open, tick_high, tick_low, tick_close)
ax.plot(post_t, tick_ma, color=BLUE, lw=1.6, zorder=5)
price_tag(ax, tick_close[-1], str(tick_close[-1]), '#ffff00', 'black', '#ffff00')

# ^ADD
ax = axes[1]
ax.axhline(0, color=DEEP_BLUE, lw=2.2, zorder=2)
ax.plot(add_pre_t + post_t, add_pre_v + add_close, color='white', lw=1.6, zorder=4)
ax.plot(add_ma_t, add_ma_v, color='#d88a10', lw=0.9, zorder=5)
price_tag(ax, add_close[-1], '%.2f' % add_close[-1], '#7cff1e', 'black', '#7cff1e')

# ^TRIN
ax = axes[2]
ax.axhline(1.0, color=YELLOW, lw=1.4, zorder=2)
trin_t = [OPEN_T + m for m in range(2, 75)]
draw_candles(ax, trin_t, trin_open, trin_high, trin_low, trin_close)
ax.plot([OPEN_T + m for m in trin_ma_m], trin_ma_v, color=BLUE, lw=1.6, zorder=5)
price_tag(ax, trin_close[-1], '%.2f' % trin_close[-1], 'black', 'white', 'white')

# ES
ax = axes[3]
ax.axhline(es_level, color=DEEP_BLUE, lw=2.2, zorder=2)
es_pre_t = [ES_PRE_START + k for k in range(len(es_pre_open))]
draw_candles(ax, es_pre_t, es_pre_open, None, None, es_pre_close)
draw_candles(ax, post_t, es_open, es_high, es_low, es_close)
ax.plot(post_t, es_ma, color=ORANGE, lw=1.6, zorder=5)
price_tag(ax, es_close[-1], '%.2f' % es_close[-1], 'black', 'white', 'white')

# ^TICKDJ
ax = axes[4]
ax.axhline(0, color=DEEP_BLUE, lw=1.0, zorder=2)
draw_candles(ax, post_t, tdj_open, tdj_high, tdj_low, tdj_close)
ax.plot([OPEN_T + m for m in tdj_ma_m], tdj_ma_v, color=BLUE, lw=1.6, zorder=5)
price_tag(ax, tdj_close[-1], str(tdj_close[-1]), 'black', 'white', 'white')

# YM
ax = axes[5]
draw_candles(ax, ym_pre_t, ym_pre_open, None, None, ym_pre_close)
draw_candles(ax, post_t, ym_open, ym_high, ym_low, ym_close)
price_tag(ax, ym_close[-1], str(ym_close[-1]), 'black', 'white', 'white')
ax.set_xticks(x_ticks)
ax.set_xticklabels(x_labels)
ax.text(0.002, 5 / (bots[5] - tops[5]), '\u00a9 2011 NinjaTrader, LLC', transform=ax.transAxes,
        color='white', fontsize=8, va='bottom', ha='left')

fig.text(0.5, fy(12.5), '^TICK (1 Min) / ^ADD (1 Min) / ^TRIN (1 Min) / ES 06-11 (1 Min) / '
         '^TICKDJ (1 Min) / YM 06-11 (1 Min)  3/10/2011',
         color='white', fontsize=11.5, ha='center', va='center')

fig.savefig('out.png', dpi=100, facecolor='black')
